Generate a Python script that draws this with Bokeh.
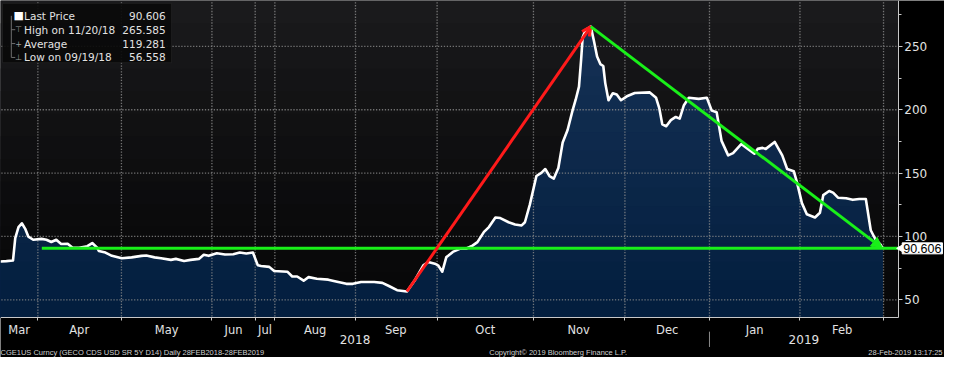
import numpy as np
from bokeh.plotting import figure
from bokeh.models import (Range1d, FixedTicker, SingleIntervalTicker, Label,
                          BoxAnnotation, Arrow, OpenHead, NormalHead)
from bokeh.embed import file_html
from bokeh.resources import INLINE

# ---------------- data ----------------
# position of each observation on the (trading-day) index axis
obs = [0, 6, 12.7, 15, 18.3, 21.7, 25, 28.3, 33.3, 41.7, 46.7, 51.7, 56.7, 61.7,
       68.3, 73.3, 80, 88.3, 93.3, 98.3, 100, 106.7, 113.3, 123.3, 133.3, 143.3,
       148.3, 156.7, 163.3, 173.3, 178.3, 186.7, 193.3, 201.7, 206.7, 211.7, 220,
       228.3, 236.7, 243.3, 250, 256.7, 261.7, 265, 273.3, 278.3, 291.7, 296.7,
       301.7, 308.3, 313.3, 321.7, 333.3, 340, 351.7, 358.3, 366.7, 380, 388.3,
       395, 403.3, 413.3, 421.7, 430, 435, 441.7, 445, 449.3, 453.3, 460, 468.3,
       473.3, 480, 485, 491.7, 496.7, 503.3, 508.3, 516.7, 523.3, 530, 533.3,
       538.3, 545, 550, 554, 558.3, 562.7, 567.3, 571.7, 576.7, 581.7, 585,
       588.3, 590.5, 592, 595, 598, 600.3, 603.3, 606.7, 610, 613, 615, 618.3,
       622.7, 626.7, 631, 637, 645, 660, 666.7, 670, 673, 677, 681.7, 686.7,
       690.7, 695, 700, 710, 718.3, 723.3, 728.3, 733.3, 740, 745, 753.3, 760,
       766.7, 770, 775, 778.3, 787.3, 795, 800, 806.7, 810, 815, 820, 828.3,
       833.3, 836.7, 842.7, 846.7, 851.7, 860, 866.7, 873.3, 880, 885, 890, 895,
       897]
price = [80.2, 80.5, 81.0, 98.6, 107.4, 110.4, 106.2, 99.9, 97.4, 98.1, 97.4,
         95.6, 97.4, 94.1, 94.3, 91.1, 91.1, 92.3, 94.8, 91.1, 88.5, 87.3, 84.7,
         82.8, 83.5, 84.7, 85.0, 83.5, 82.8, 81.5, 82.3, 80.7, 81.5, 82.3, 85.5,
         84.7, 86.8, 85.8, 86.0, 87.3, 86.5, 87.3, 77.2, 76.7, 76.0, 72.7, 72.2,
         68.4, 68.4, 65.1, 67.9, 66.6, 65.9, 64.7, 62.6, 62.6, 64.1, 64.1, 63.4,
         60.9, 57.6, 56.558, 65.9, 77.2, 79.8, 78.5, 77.2, 72.2, 83.5, 87.8, 90.6,
         90.3, 92.8, 95.5, 103.6, 107.4, 115.0, 114.5, 111.2, 109.4, 108.7, 111.2,
         125.1, 147.7, 150.2, 153.2, 147.7, 145.7, 154.0, 174.2, 184.0, 199.3,
         208.1, 218.2, 240.0, 257.0, 263.0, 264.5, 265.585, 255.0, 242.0, 236.0,
         234.5, 221.0, 207.5, 213.0, 212.0, 207.5, 210.6, 213.2, 213.7, 209.4,
         201.0, 188.5, 187.0, 191.8, 194.3, 193.0, 203.6, 209.4, 208.6, 209.4,
         199.3, 198.0, 175.4, 164.0, 165.8, 172.9, 169.1, 165.3, 169.1, 169.9,
         169.1, 174.6, 164.0, 153.2, 151.5, 142.7, 126.3, 117.5, 115.0, 118.7,
         132.6, 135.9, 134.6, 130.6, 130.1, 128.9, 129.6, 129.6, 104.9, 97.4,
         93.6, 90.606]

month_names = ["Mar", "Apr", "May", "Jun", "Jul", "Aug", "Sep", "Oct", "Nov",
               "Dec", "Jan", "Feb"]
month_starts = [0, 38, 123, 215, 259, 279, 361, 444, 542, 635, 721, 813, 898]
year_names = ["2018", "2019"]
value_ticks = [50, 100, 150, 200, 250]

legend_names = ["Last Price", "High on 11/20/18", "Average", "Low on 09/19/18"]
legend_values = [90.606, 265.585, 119.281, 56.558]
trend_start_obs = 42

footer_left = "CGE1US Curncy (GECO CDS USD SR 5Y D14)  Daily 28FEB2018-28FEB2019"
footer_mid = "Copyright\u00a9 2019 Bloomberg Finance L.P."
footer_right = "28-Feb-2019 13:17:25"

# ---------------- layout ----------------
W, H = 944, 357                 # whole figure is the frame
AX_X = 913                      # value axis position (index units)
Y_LO, Y_HI = 36.2, 286.2        # visible value span of the plot area
REF_H_PLOT = 331.0              # plot area height in the reference picture
k = (Y_HI - Y_LO) / REF_H_PLOT  # value units per reference pixel
X0, X1 = 0, 960
Y0, Y1 = Y_HI - 373 * k, Y_HI
FONT = "DejaVu Sans"
TXT = "#e2e2e2"


def ry(ref_px):                 # reference-pixel row -> value coordinate
    return Y_HI - ref_px * k


p = figure(width=W, height=H, output_backend="svg", toolbar_location=None,
           x_range=Range1d(X0, X1), y_range=Range1d(Y0, Y1),
           y_axis_location="right", min_border=0)
p.border_fill_color = "black"
p.background_fill_color = "black"
p.outline_line_color = None
p.xgrid.visible = False
p.ygrid.visible = False

# background gradient of the plot area (top grey -> bottom near black)
n_bg = 14
bg_edges = np.linspace(Y_LO, Y_HI, n_bg + 1)
c_top, c_bot = np.array([28, 28, 30]), np.array([8, 8, 9])
for i in range(n_bg, 0, -1):
    t = (i - 0.5) / n_bg
    c = (c_bot + (c_top - c_bot) * t ** 1.5).astype(int)
    p.quad(left=[0], right=[AX_X], bottom=[Y_LO], top=[bg_edges[i]],
           fill_color="#%02x%02x%02x" % tuple(c), line_color=None, level="image")

# gradient area fill under the price line
pr = np.array(price)
n_f = 16
f_edges = np.linspace(Y_LO, 270, n_f + 1)
f_edges[-1] = Y_HI
f_top, f_bot = np.array([22, 50, 86]), np.array([3, 30, 62])
for i in range(n_f, 0, -1):
    t = (i - 0.5) / n_f
    c = (f_bot + (f_top - f_bot) * t).astype(int)
    p.varea(x=obs, y1=Y_LO, y2=np.minimum(pr, f_edges[i]),
            fill_color="#%02x%02x%02x" % tuple(c), level="underlay")

# dotted grid restricted to the plot area (drawn as rows of small dots)
gx, gy = [], []
for v in month_starts[1:]:
    ys = np.arange(Y_LO + 1.5 * k, Y_HI, 3 * k)
    gx += [v] * len(ys)
    gy += list(ys)
for v in value_ticks:
    xs = np.arange(1.5, AX_X, 3.0)
    gx += list(xs)
    gy += [v] * len(xs)
p.scatter(x=gx, y=gy, marker="square", size=1.3, fill_color="#8c8c8c",
          fill_alpha=0.8, line_color=None)

# price line
p.line(obs, price, line_color="white", line_width=2.6, line_join="round")

# x axis (month labels between month boundaries)
month_ticks = [int(round((a + b) / 2)) for a, b in zip(month_starts[:-1], month_starts[1:])]
ax = p.xaxis[0]
ax.fixed_location = Y_LO
ax.bounds = (0, AX_X)
ax.ticker = FixedTicker(ticks=month_ticks, minor_ticks=month_starts[1:])
ax.major_label_overrides = {t: n for t, n in zip(month_ticks, month_names)}
ax.major_tick_line_color = None
ax.major_tick_out = 0
ax.major_tick_in = 0
ax.minor_tick_out = 3
ax.minor_tick_in = 0
ax.minor_tick_line_color = "#c8c8c8"
ax.axis_line_color = "#c8c8c8"
ax.major_label_standoff = 3
ax.major_label_text_color = TXT
ax.major_label_text_font = FONT
ax.major_label_text_font_size = "11.5px"

# right value axis
ay = p.yaxis[0]
ay.fixed_location = AX_X
ay.bounds = (Y_LO, Y_HI)
ay.ticker = SingleIntervalTicker(interval=50, num_minor_ticks=2)
ay.axis_line_color = "#c8c8c8"
ay.major_tick_line_color = "#c8c8c8"
ay.minor_tick_line_color = "#c8c8c8"
ay.major_tick_out = 4
ay.major_tick_in = 0
ay.minor_tick_out = 3
ay.minor_tick_in = 0
ay.major_label_standoff = 2
ay.major_label_text_color = TXT
ay.major_label_text_font = FONT
ay.major_label_text_font_size = "12px"

# trend lines
i_lo = int(np.argmin(pr))
i_hi = int(np.argmax(pr))
last = price[-1]
p.segment(x0=[trend_start_obs], y0=[last], x1=[AX_X], y1=[last],
          line_color="#19f019", line_width=3)
p.add_layout(Arrow(x_start=obs[i_lo], y_start=price[i_lo],
                   x_end=obs[i_hi], y_end=price[i_hi],
                   line_color="#ff1a1a", line_width=3,
                   end=OpenHead(size=9, line_color="#ff1a1a", line_width=3)))
p.add_layout(Arrow(x_start=obs[i_hi], y_start=price[i_hi],
                   x_end=obs[-1], y_end=last,
                   line_color="#19f019", line_width=3,
                   end=NormalHead(size=11, line_color="#19f019",
                                  fill_color="#19f019")))

# last price tag on the value axis
p.scatter(x=[AX_X + 3], y=[last], marker="triangle", angle=np.pi / 2, size=8,
          fill_color="white", line_color="white", level="overlay")
p.add_layout(Label(x=AX_X + 4, y=last, text="%.3f" % last, text_baseline="middle",
                   text_font="Liberation Sans", text_font_size="12.5px",
                   text_color="black", background_fill_color="white",
                   border_line_color="white", padding=1, level="overlay"))

# legend box (top-left)
p.add_layout(BoxAnnotation(left=2, right=174, top=ry(3), bottom=ry(65),
                           fill_color="#0a0a0a", fill_alpha=0.92,
                           line_color="#3e3e3e", line_width=1))
rows = [16, 30.5, 45, 59.5]
p.segment(x0=[11], y0=[ry(16)], x1=[11], y1=[ry(59.5)], line_color="#6e6e6e",
          line_width=1, level="overlay")
p.segment(x0=[11] * 3, y0=[ry(r) for r in rows[1:]], x1=[15] * 3,
          y1=[ry(r) for r in rows[1:]], line_color="#6e6e6e", line_width=1,
          level="overlay")
marks = ["\u25a0", "\u22a4", "+", "\u22a5"]
mark_sizes = ["11px", "8px", "8px", "8px"]
mark_cols = ["white", "#9a9a9a", "#9a9a9a", "#9a9a9a"]
for r, m, ms, mc, name, val in zip(rows, marks, mark_sizes, mark_cols,
                                   legend_names, legend_values):
    p.add_layout(Label(x=18.5, y=ry(r), text=m, text_align="center",
                       text_baseline="middle", text_font=FONT,
                       text_font_size=ms, text_color=mc, level="overlay"))
    p.add_layout(Label(x=24, y=ry(r), text=name, text_baseline="middle",
                       text_font=FONT, text_font_size="10.5px", text_color=TXT,
                       level="overlay"))
    p.add_layout(Label(x=168, y=ry(r), text="%.3f" % val, text_align="right",
                       text_baseline="middle", text_font=FONT,
                       text_font_size="10.5px", text_color=TXT, level="overlay"))

# year row and separator
year_bounds = [(month_starts[0], month_starts[10]), (month_starts[10], AX_X)]
for (a, b), yname in zip(year_bounds, year_names):
    p.add_layout(Label(x=(a + b) / 2, y=ry(354.5), text=yname, text_align="center",
                       text_baseline="middle", text_font=FONT,
                       text_font_size="12px", text_color=TXT))
p.segment(x0=[month_starts[10]], y0=[ry(346)], x1=[month_starts[10]],
          y1=[ry(362)], line_color="#8a8a8a", line_width=1)

# footer
for xx, txt, al in [(0, footer_left, "left"), (497, footer_mid, "left"),
                    (958, footer_right, "right")]:
    p.add_layout(Label(x=xx, y=ry(367.5), text=txt, text_align=al,
                       text_baseline="middle", text_font="Liberation Sans",
                       text_font_size="7.5px", text_color="#cfcfcf"))

open("out.html", "w").write(file_html(p, INLINE))
